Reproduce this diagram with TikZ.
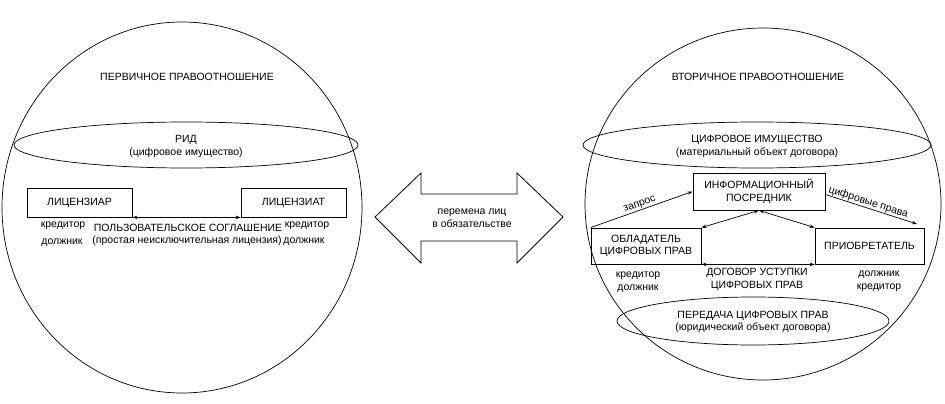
\documentclass[tikz,border=0pt]{standalone}
\usepackage{fontspec}
\setmainfont{Liberation Sans}
\usetikzlibrary{arrows.meta,calc}
\begin{document}
\begin{tikzpicture}[x=1pt,y=-1pt,
  line width=0.7pt,
  every node/.style={font=\fontsize{10.5}{12.5}\selectfont, inner sep=0pt},
  txt/.style={align=center},
  box/.style={draw, line width=0.8pt, align=center},
  arr/.style={-{Stealth[length=5pt,width=3.5pt]}},
  darr/.style={{Stealth[length=5pt,width=3.5pt]}-{Stealth[length=5pt,width=3.5pt]}}]
\useasboundingbox (0,0) rectangle (945,404);
% left circle
\draw (182,207.5) ellipse [x radius=180, y radius=185.5];
\node[txt] (t1) at (187,77) {ПЕРВИЧНОЕ ПРАВООТНОШЕНИЕ};
\draw (186,145) ellipse [x radius=172, y radius=23];
\node[txt] (rid) at (186,146.5) {РИД\\(цифровое имущество)};
\node[box, minimum width=105pt, minimum height=29pt] (lic1) at (79.5,202.5) {ЛИЦЕНЗИАР};
\node[box, minimum width=105pt, minimum height=29pt] (lic2) at (293.5,202.5) {ЛИЦЕНЗИАТ};
\draw[darr] (lic1.south east) -- (lic2.south west);
\node (kr1) at (63,226) {кредитор};
\node (dl1) at (62,243) {должник};
\node (ps) at (188,228) {ПОЛЬЗОВАТЕЛЬСКОЕ СОГЛАШЕНИЕ};
\node (pr) at (187,241) {(простая неисключительная лицензия)};
\node (kr2) at (307,226) {кредитор};
\node (dl2) at (304,242) {должник};
% middle double arrow
\draw[line width=0.8pt] (375,217) -- (421,173) -- (421,194) -- (517,194) -- (517,173) -- (563,217)
  -- (517,263) -- (517,241) -- (421,241) -- (421,263) -- cycle;
\node[txt] (pm) at (472,218) {перемена лиц\\в обязательстве};
% right circle
\draw (763,204) ellipse [x radius=178, y radius=176];
\node[txt] (t2) at (758,77) {ВТОРИЧНОЕ ПРАВООТНОШЕНИЕ};
\draw (757,145) ellipse [x radius=174, y radius=23];
\node[txt] (ci) at (757,146.5) {ЦИФРОВОЕ ИМУЩЕСТВО\\(материальный объект договора)};
\node[box, minimum width=132pt, minimum height=37pt] (ip) at (759,191.5) {ИНФОРМАЦИОННЫЙ\\ПОСРЕДНИК};
\node[box, minimum width=110pt, minimum height=36pt] (ob) at (646,246) {ОБЛАДАТЕЛЬ\\ЦИФРОВЫХ ПРАВ};
\node[box, minimum width=109pt, minimum height=36pt] (pb) at (869.5,246) {ПРИОБРЕТАТЕЛЬ};
\draw[darr] (ob.north east) -- (ip.south);
\draw[darr] (pb.north west) -- (ip.south);
\draw[darr] (ob.south east) -- (pb.south west);
\draw[arr] (ob.north west) -- node[sloped, above=1pt, pos=0.5] {запрос} (ip.west);
\coordinate (cp) at (917,224);
\draw[arr] ([yshift=-3pt]ip.east) -- node[sloped, above=0.5pt, pos=0.45] {цифровые права} (cp);
\node (kr3) at (638,276) {кредитор};
\node (dl3) at (638,289) {должник};
\node[txt] (dg) at (757,279.5) {ДОГОВОР УСТУПКИ\\ЦИФРОВЫХ ПРАВ};
\node (dl4) at (879,275) {должник};
\node (kr4) at (879,288) {кредитор};
\draw (753,321) ellipse [x radius=136, y radius=24];
\node[txt] (pd) at (753,322) {ПЕРЕДАЧА ЦИФРОВЫХ ПРАВ\\(юридический объект договора)};
\end{tikzpicture}
\end{document}
